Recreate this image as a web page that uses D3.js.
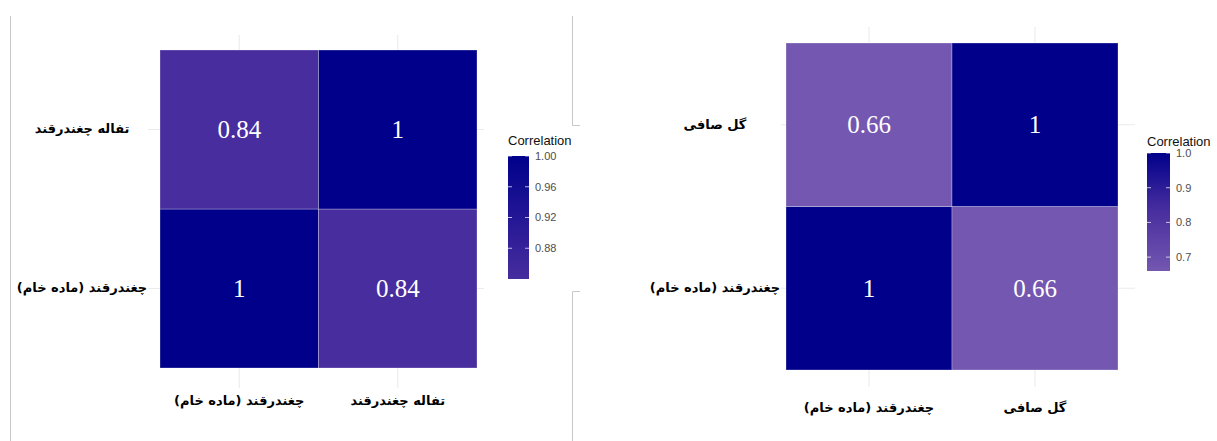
<!DOCTYPE html>
<html>
<head>
<meta charset="utf-8">
<script src="https://cdn.jsdelivr.net/npm/d3@7"></script>
<style>
  body { margin: 0; background: #fff; }
  svg { display: block; }
</style>
</head>
<body>
<svg width="1217" height="441"></svg>
<script>
// --- data ---
const leftVars = ['چغندرقند (ماده خام)', 'تفاله چغندرقند'];
const leftCorr = [[1, 0.84], [0.84, 1]];
const leftTicks = [0.88, 0.92, 0.96, 1.00];
const leftRange = [0.84, 1];

const rightVars = ['چغندرقند (ماده خام)', 'گل صافی'];
const rightCorr = [[1, 0.66], [0.66, 1]];
const rightTicks = [0.7, 0.8, 0.9, 1.0];
const rightRange = [0.66, 1];

let svg = d3.select('svg');
let defs = svg.append('defs');

// colour ramp (low end differs per panel)
let colour = d3.scaleLinear()
  .domain([0.66, 0.84, 1])
  .range(['#7457b0', '#472d9e', '#00008b'])
  .interpolate(d3.interpolateRgb);

// outer frame lines of the two figure pieces
let frame = svg.append('g').attr('stroke', '#c8c8c8').attr('fill', 'none').attr('stroke-width', 1);
frame.append('path').attr('d', 'M10.5,16 V441');
frame.append('path').attr('d', 'M572.5,16 V125.5 H580');
frame.append('path').attr('d', 'M580,291.5 H572.5 V441');

function drawPanel(opt) {
  let g = svg.append('g');

  let x = d3.scaleBand().domain(opt.vars).range([opt.x0, opt.x1]);
  let y = d3.scaleBand().domain(opt.vars).range([opt.y1, opt.y0]);

  let cells = [];
  opt.vars.forEach((vy, i) => {
    opt.vars.forEach((vx, j) => {
      cells.push({ vx: vx, vy: vy, v: opt.corr[i][j] });
    });
  });

  // grid lines at band centres
  g.selectAll('.vgrid')
    .data(opt.vars)
    .enter().append('line')
    .attr('x1', (d) => x(d) + x.bandwidth() / 2)
    .attr('x2', (d) => x(d) + x.bandwidth() / 2)
    .attr('y1', opt.gy[0])
    .attr('y2', opt.gy[1])
    .attr('stroke', '#ebebeb')
    .attr('stroke-width', 1.1);

  g.selectAll('.hgrid')
    .data(opt.vars)
    .enter().append('line')
    .attr('y1', (d) => y(d) + y.bandwidth() / 2)
    .attr('y2', (d) => y(d) + y.bandwidth() / 2)
    .attr('x1', opt.gx[0])
    .attr('x2', opt.gx[1])
    .attr('stroke', '#ebebeb')
    .attr('stroke-width', 1.1);

  g.selectAll('.tile')
    .data(cells)
    .enter().append('rect')
    .attr('x', (d) => x(d.vx))
    .attr('y', (d) => y(d.vy))
    .attr('width', x.bandwidth())
    .attr('height', y.bandwidth())
    .attr('fill', (d) => colour(d.v))
    .attr('stroke', 'rgba(255,255,255,0.35)')
    .attr('stroke-width', 0.8);

  g.selectAll('.val')
    .data(cells)
    .enter().append('text')
    .attr('x', (d) => x(d.vx) + x.bandwidth() / 2)
    .attr('y', (d) => y(d.vy) + y.bandwidth() / 2)
    .attr('dy', '0.33em')
    .attr('text-anchor', 'middle')
    .attr('font-family', "'Liberation Serif', 'Times New Roman', serif")
    .attr('font-size', 25)
    .attr('fill', '#fff')
    .text((d) => String(d.v));

  // axis labels (Persian)
  g.selectAll('.ylab')
    .data(opt.vars)
    .enter().append('text')
    .attr('x', opt.ylabX)
    .attr('y', (d) => y(d) + y.bandwidth() / 2)
    .attr('dy', '0.3em')
    .attr('direction', 'rtl')
    .attr('text-anchor', 'middle')
    .attr('font-family', "'DejaVu Sans', sans-serif")
    .attr('font-weight', 'bold')
    .attr('font-size', 13)
    .attr('fill', '#000')
    .text((d) => d);

  g.selectAll('.xlab')
    .data(opt.vars)
    .enter().append('text')
    .attr('x', (d) => x(d) + x.bandwidth() / 2)
    .attr('y', opt.xlabY)
    .attr('direction', 'rtl')
    .attr('text-anchor', 'middle')
    .attr('font-family', "'DejaVu Sans', sans-serif")
    .attr('font-weight', 'bold')
    .attr('font-size', 13)
    .attr('fill', '#000')
    .text((d) => d);

  // colour bar legend
  let lg = svg.append('g');
  let ly = d3.scaleLinear().domain(opt.range).range([opt.ly1, opt.ly0]);

  let gid = `grad-${opt.id}`;
  let grad = defs.append('linearGradient')
    .attr('id', gid)
    .attr('x1', 0).attr('y1', 1).attr('x2', 0).attr('y2', 0);
  d3.range(0, 1.0001, 0.1).forEach((t) => {
    let v = opt.range[0] + t * (opt.range[1] - opt.range[0]);
    grad.append('stop').attr('offset', `${t * 100}%`).attr('stop-color', colour(v));
  });

  lg.append('text')
    .attr('x', opt.lx)
    .attr('y', opt.titleY)
    .attr('font-family', "'Liberation Sans', Arial, sans-serif")
    .attr('font-size', 13)
    .attr('fill', '#111')
    .text('Correlation');

  lg.append('rect')
    .attr('x', opt.lx)
    .attr('y', opt.ly0)
    .attr('width', opt.lw)
    .attr('height', opt.ly1 - opt.ly0)
    .attr('fill', `url(#${gid})`);

  lg.selectAll('.tickL')
    .data(opt.ticks)
    .enter().append('line')
    .attr('x1', opt.lx).attr('x2', opt.lx + 4)
    .attr('y1', (d) => ly(d)).attr('y2', (d) => ly(d))
    .attr('stroke', 'rgba(255,255,255,0.7)');

  lg.selectAll('.tickR')
    .data(opt.ticks)
    .enter().append('line')
    .attr('x1', opt.lx + opt.lw - 4).attr('x2', opt.lx + opt.lw)
    .attr('y1', (d) => ly(d)).attr('y2', (d) => ly(d))
    .attr('stroke', 'rgba(255,255,255,0.7)');

  lg.selectAll('.tickLab')
    .data(opt.ticks)
    .enter().append('text')
    .attr('x', opt.lx + opt.lw + 6)
    .attr('y', (d) => ly(d))
    .attr('dy', '0.35em')
    .attr('font-family', "'Liberation Sans', Arial, sans-serif")
    .attr('font-size', 11)
    .attr('fill', '#4d4d4d')
    .text((d) => d3.format(opt.fmt)(d));
}

drawPanel({
  id: 'left', vars: leftVars, corr: leftCorr, ticks: leftTicks, range: leftRange, fmt: '.2f',
  x0: 160, x1: 477, y0: 50, y1: 368,
  gx: [148, 484], gy: [35, 388],
  ylabX: 82, xlabY: 405,
  lx: 508, lw: 21, ly0: 156, ly1: 279, titleY: 145
});

drawPanel({
  id: 'right', vars: rightVars, corr: rightCorr, ticks: rightTicks, range: rightRange, fmt: '.1f',
  x0: 786, x1: 1118, y0: 43, y1: 370,
  gx: [781, 1135], gy: [27, 387],
  ylabX: 715, xlabY: 412,
  lx: 1147, lw: 23, ly0: 153, ly1: 271, titleY: 146
});
</script>
</body>
</html>
